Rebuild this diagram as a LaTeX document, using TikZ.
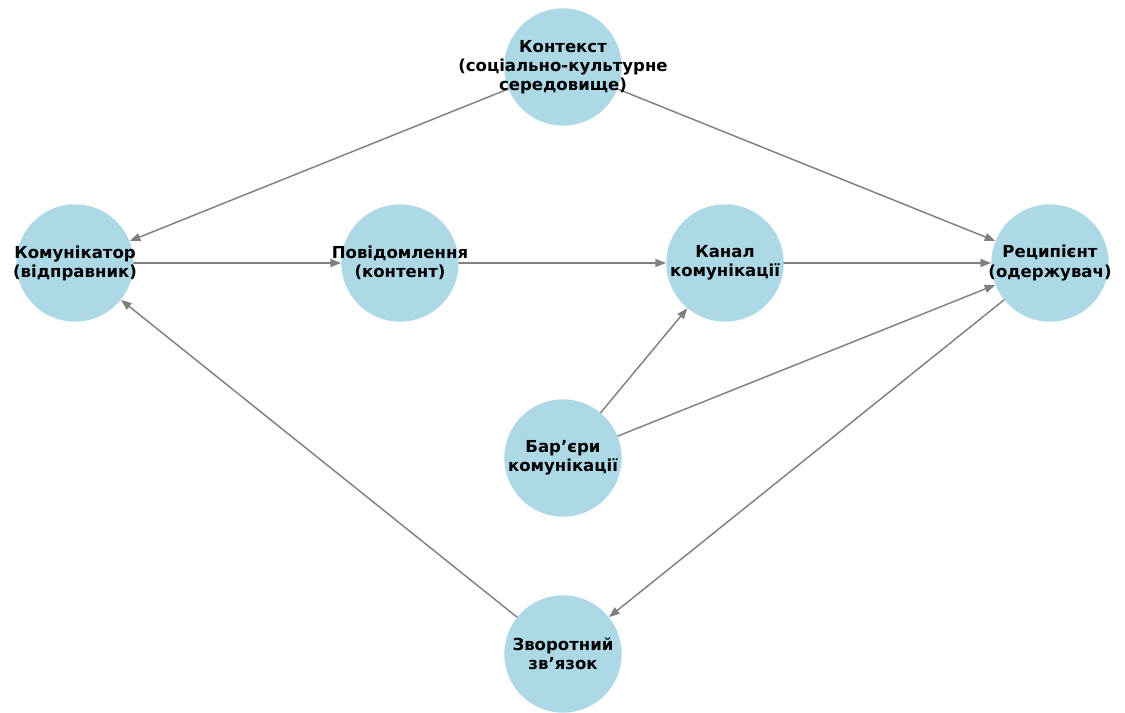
\documentclass[tikz,border=0pt]{standalone}
\usepackage{fontspec}
\setmainfont{DejaVu Sans}
\usepackage{tikz}
\usetikzlibrary{arrows.meta}

\definecolor{nodeblue}{HTML}{ADD8E6}
\definecolor{linkgray}{HTML}{808080}

\begin{document}
\begin{tikzpicture}[
  x=0.75pt,y=-0.75pt,
  line cap=round,line join=round,
  vertex/.style={circle,fill=nodeblue,minimum size=88pt,inner sep=0pt},
  caption/.style={font=\bfseries\fontsize{12.4}{14.3}\selectfont,align=center,inner sep=0pt},
  link/.style={draw=linkgray,line width=1.1pt,-{Triangle[length=8pt,width=6pt]}},
  >=Latex
]
  \useasboundingbox (0,0) rectangle (1125,713);

  % Circles
  \node[vertex] (ctx) at (563,67) {};
  \node[vertex] (snd) at (75,263) {};
  \node[vertex] (msg) at (400,263) {};
  \node[vertex] (chn) at (725,263) {};
  \node[vertex] (rcv) at (1050,263) {};
  \node[vertex] (bar) at (563,458) {};
  \node[vertex] (fbk) at (563,654) {};

  % Connections
  \draw[link] (ctx) -- (snd);
  \draw[link] (ctx) -- (rcv);
  \draw[link] (snd) -- (msg);
  \draw[link] (msg) -- (chn);
  \draw[link] (chn) -- (rcv);
  \draw[link] (bar) -- (chn);
  \draw[link] (bar) -- (rcv);
  \draw[link] (rcv) -- (fbk);
  \draw[link] (fbk) -- (snd);

  % Labels
  \node[caption] (ctx-t) at (ctx) {Контекст\\(соціально-культурне\\середовище)};
  \node[caption] (snd-t) at (snd) {Комунікатор\\(відправник)};
  \node[caption] (msg-t) at (msg) {Повідомлення\\(контент)};
  \node[caption] (chn-t) at (chn) {Канал\\комунікації};
  \node[caption] (rcv-t) at (rcv) {Реципієнт\\(одержувач)};
  \node[caption] (bar-t) at (bar) {Бар’єри\\комунікації};
  \node[caption] (fbk-t) at (fbk) {Зворотний\\зв’язок};
\end{tikzpicture}
\end{document}
